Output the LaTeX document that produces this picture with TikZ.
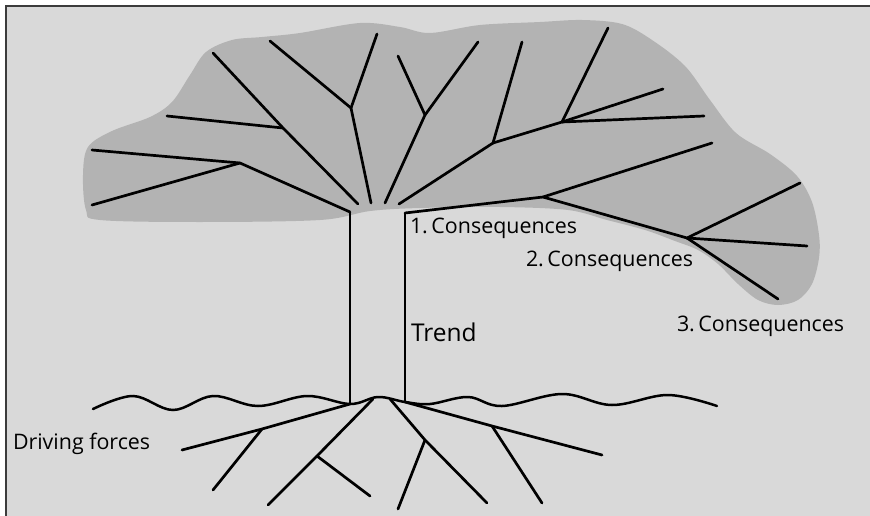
\documentclass[tikz,border=0pt]{standalone}
\usepackage{fontspec}
\setmainfont{Open Sans}
\begin{document}
\begin{tikzpicture}[x=1pt,y=-1pt,
  every node/.style={inner sep=0pt,outer sep=0pt,font=\fontsize{21.4}{25}\selectfont},
  bigger/.style={font=\fontsize{24.5}{28}\selectfont},
  branch/.style={line width=2.7pt,line cap=round,line join=round},
  trunkline/.style={line width=2.5pt},
  groundline/.style={line width=2.5pt,line cap=round}]
\definecolor{bg}{HTML}{D9D9D9}
\definecolor{crown}{HTML}{B3B3B3}
\definecolor{frame}{HTML}{3C3C3C}
\useasboundingbox (0,0) rectangle (870,516);
\fill[white] (0,0) rectangle (870,516);
% panel with its frame (open to the right and bottom)
\fill[bg] (5.5,6.5) rectangle (875,525);
\draw[frame,line width=2pt] (5.5,525) -- (5.5,6.5) -- (875,6.5);

% crown
\fill[crown] plot[smooth cycle,tension=0.55] coordinates {
  (83,175) (88,147) (112,131) (150,117) (172,102) (190,75) (206,52) (232,40)
  (262,37) (300,33) (360,23) (400,27) (430,33) (480,25) (540,22) (582,20)
  (622,24) (652,40) (685,66) (710,100) (736,133) (770,154) (797,176)
  (812,202) (819,235) (819,258) (812,284) (798,300) (778,305) (758,300)
  (738,284) (718,264) (698,250) (675,241) (645,230) (607,220) (568,210)
  (500,207) (420,208) (370,211) (320,220) (200,222) (100,220) (86,210)};

% trunk
\coordinate (tl) at (350,212);
\coordinate (tr) at (405,213);
\coordinate (bl) at (350,404);
\coordinate (br) at (405,402);
\draw[trunkline] (tl) -- (bl);
\draw[trunkline] (tr) -- (br);

% crown branches
\coordinate (a0) at (240,163);
\coordinate (a1) at (92,150);
\coordinate (a2) at (92,205);
\draw[branch] (tl) -- (a0) -- (a1);
\draw[branch] (a0) -- (a2);

\coordinate (b0) at (358,204);
\coordinate (b1) at (283,128);
\coordinate (b2) at (213,53);
\coordinate (b3) at (167,116);
\draw[branch] (b0) -- (b1) -- (b2);
\draw[branch] (b1) -- (b3);

\coordinate (c0) at (371,203);
\coordinate (c1) at (351,108);
\coordinate (c2) at (270,41);
\coordinate (c3) at (377,34);
\draw[branch] (c0) -- (c1) -- (c2);
\draw[branch] (c1) -- (c3);

\coordinate (d0) at (385,203);
\coordinate (d1) at (425,115);
\coordinate (d2) at (398,56);
\coordinate (d3) at (478,42);
\draw[branch] (d0) -- (d1) -- (d2);
\draw[branch] (d1) -- (d3);

\coordinate (e0) at (399,204);
\coordinate (e1) at (493,143);
\coordinate (e2) at (522,42);
\coordinate (e3) at (562,122);
\coordinate (e4) at (608,28);
\coordinate (e5) at (663,89);
\coordinate (e6) at (704,116);
\draw[branch] (e0) -- (e1) -- (e2);
\draw[branch] (e1) -- (e3) -- (e4);
\draw[branch] (e3) -- (e5);
\draw[branch] (e3) -- (e6);

\coordinate (f1) at (543,197);
\coordinate (f2) at (712,143);
\coordinate (f3) at (687,238);
\coordinate (f4) at (800,183);
\coordinate (f5) at (807,246);
\coordinate (f6) at (778,299);
\draw[branch] (tr) -- (f1) -- (f2);
\draw[branch] (f1) -- (f3) -- (f4);
\draw[branch] (f3) -- (f5);
\draw[branch] (f3) -- (f6);

% ground
\draw[groundline] plot[smooth,tension=0.6] coordinates {
  (93,409) (133,396) (173,410) (213,396) (258,406) (307,396) (350,404)
  (378,397) (405,402) (430,404) (468,397) (502,406) (562,394) (612,405)
  (668,395) (717,406)};

% roots
\coordinate (r1) at (262,429);
\coordinate (r2) at (182,450);
\coordinate (r3) at (213,490);
\draw[branch] (bl) -- (r1) -- (r2);
\draw[branch] (r1) -- (r3);

\coordinate (s0) at (373,399);
\coordinate (s1) at (317,456);
\coordinate (s2) at (268,505);
\coordinate (s3) at (370,496);
\draw[branch] (s0) -- (s1) -- (s2);
\draw[branch] (s1) -- (s3);

\coordinate (u0) at (390,399);
\coordinate (u1) at (425,440);
\coordinate (u2) at (487,503);
\coordinate (u3) at (398,509);
\draw[branch] (u0) -- (u1) -- (u2);
\draw[branch] (u1) -- (u3);

\coordinate (v1) at (492,426);
\coordinate (v2) at (602,455);
\coordinate (v3) at (542,503);
\draw[branch] (br) -- (v1) -- (v2);
\draw[branch] (v1) -- (v3);

% labels
\node[anchor=base west] (cons1) at (410,233) {1.\,Consequences};
\node[anchor=base west] (cons2) at (526,266) {2.\,Consequences};
\node[anchor=base west] (cons3) at (677,331) {3.\,Consequences};
\node[anchor=base west,bigger] (trend) at (411,341) {Trend};
\node[anchor=base west] (drive) at (13,449) {Driving forces};
\end{tikzpicture}
\end{document}
